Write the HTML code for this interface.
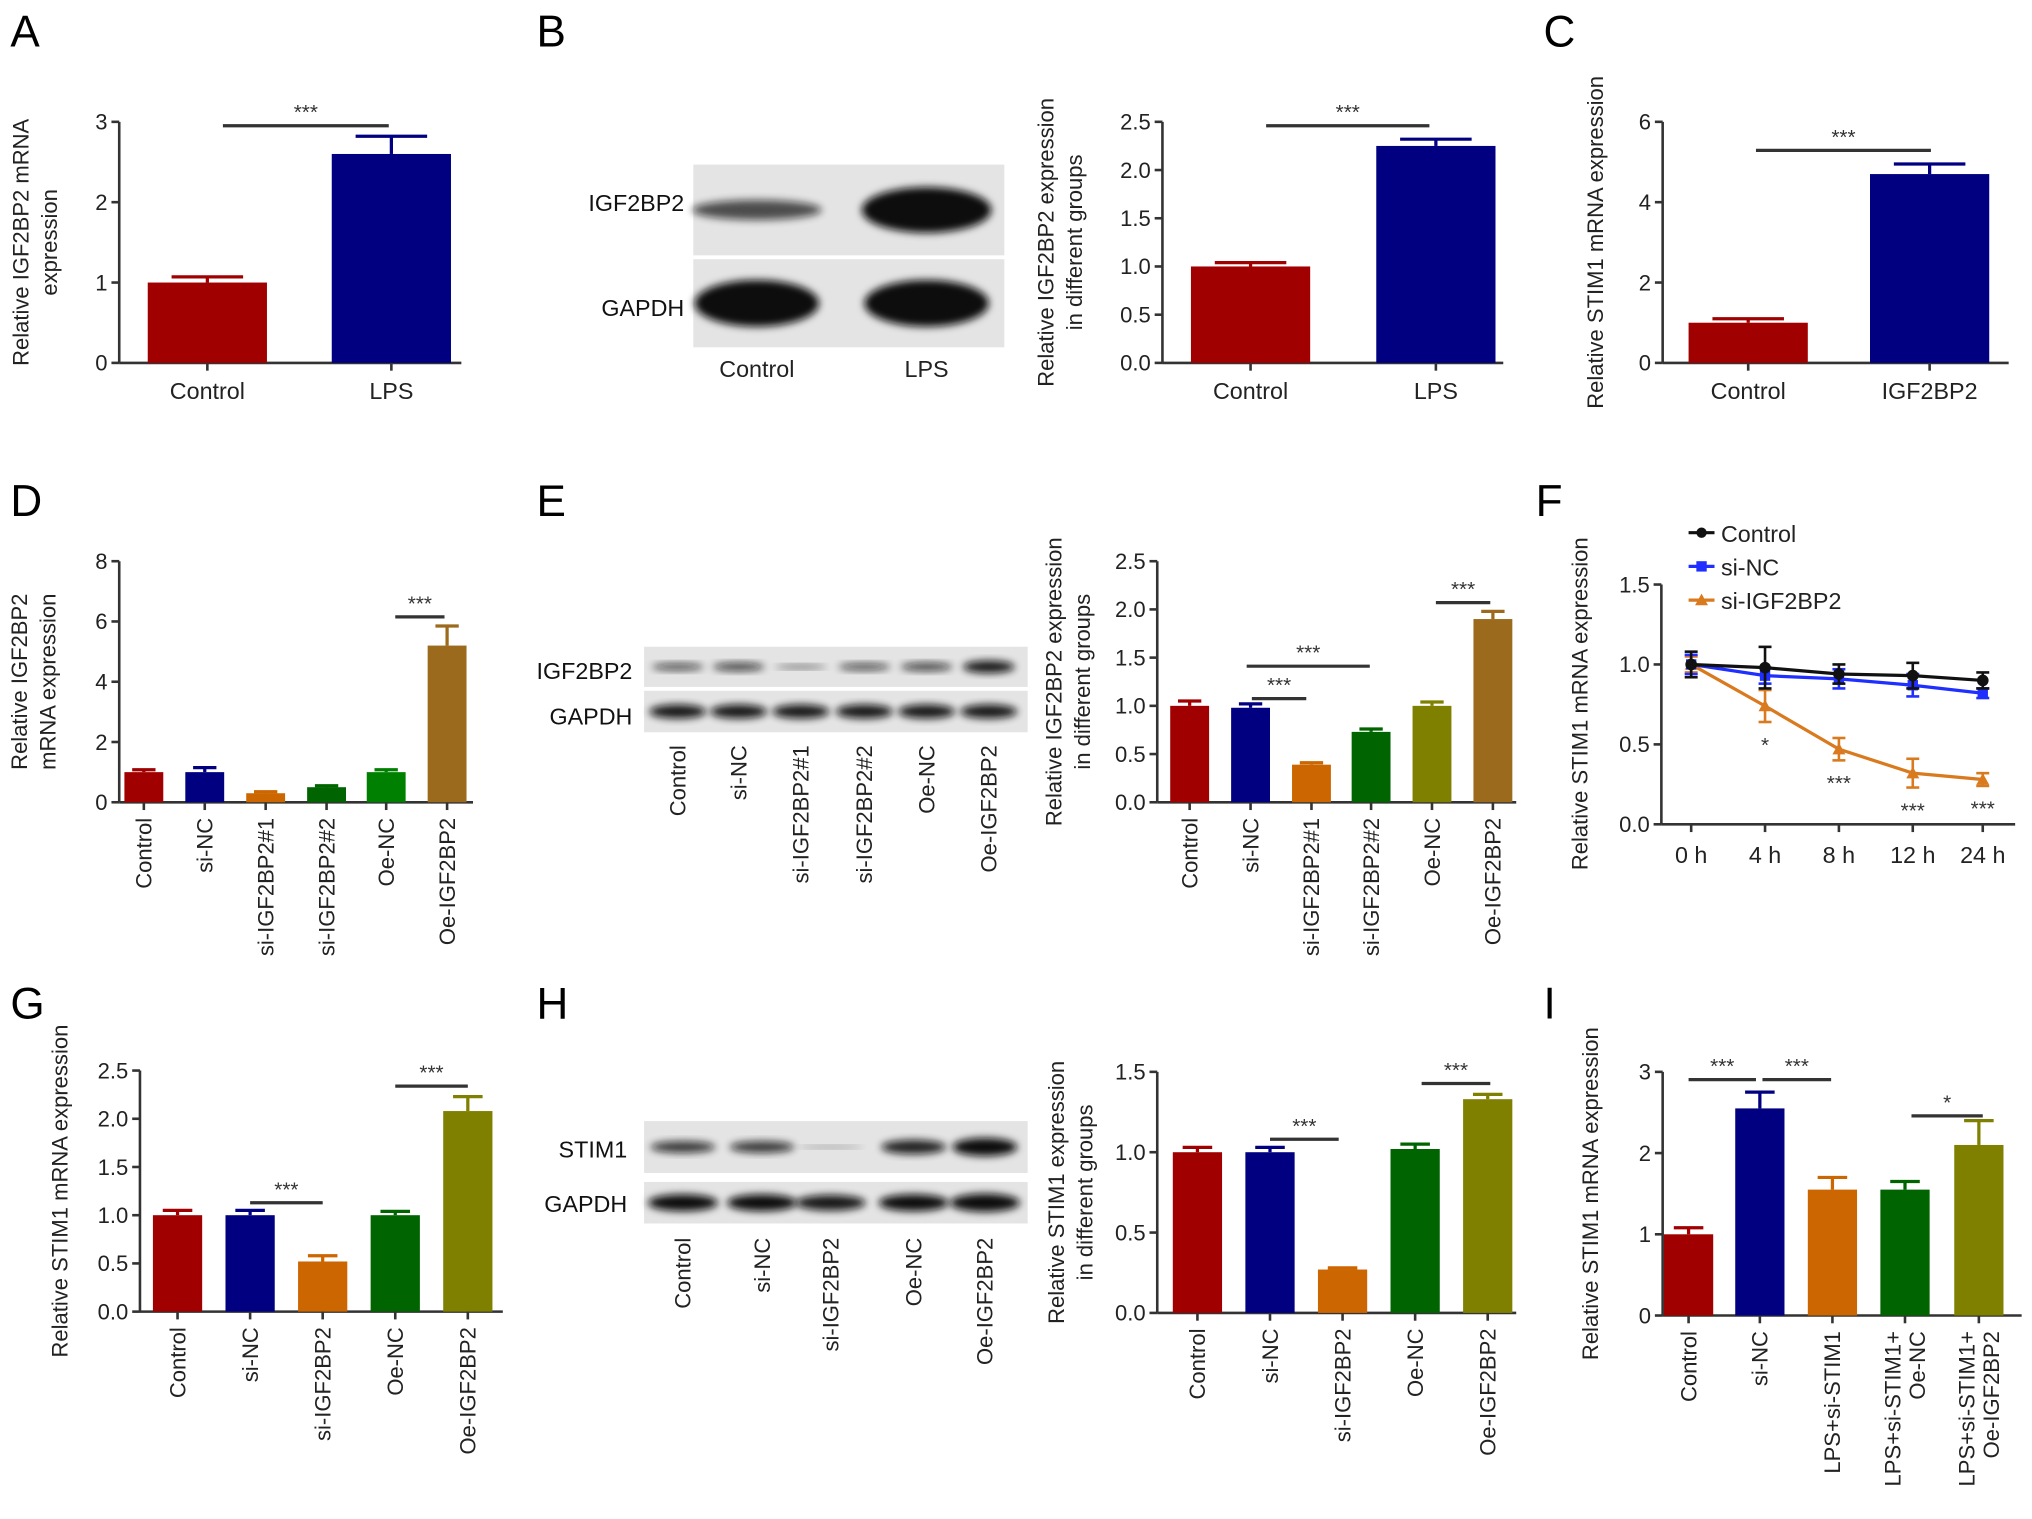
<!DOCTYPE html>
<html><head><meta charset="utf-8"><style>
html,body{margin:0;padding:0;background:#fff}
svg{display:block;font-family:"Liberation Sans",Arial,sans-serif}
</style></head><body>
<svg id="fig" width="2032" height="1519" viewBox="0 0 1568 1172" preserveAspectRatio="none" xmlns="http://www.w3.org/2000/svg">
<defs>
<filter id="blur" x="-20%" y="-50%" width="140%" height="200%"><feGaussianBlur stdDeviation="3"/></filter>
</defs>
<g id="letters" font-size="34" fill="#000">
<text x="8" y="36">A</text><text x="414" y="36">B</text><text x="1191" y="36">C</text>
<text x="8" y="398">D</text><text x="414" y="398">E</text><text x="1185" y="398">F</text>
<text x="8" y="786">G</text><text x="414" y="786">H</text><text x="1191" y="786">I</text>
</g>
</svg>
<script>
// ---- data ----
const aCats=["Control","LPS"], aVals=[1.0,2.6], aErr=[0.07,0.22], aTicks=["0","1","2","3"];
const bCats=["Control","LPS"], bVals=[1.0,2.25], bErr=[0.04,0.07], bTicks=["0.0","0.5","1.0","1.5","2.0","2.5"];
const cCats=["Control","IGF2BP2"], cVals=[1.0,4.7], cErr=[0.1,0.25], cTicks=["0","2","4","6"];
const dCats=["Control","si-NC","si-IGF2BP2#1","si-IGF2BP2#2","Oe-NC","Oe-IGF2BP2"], dVals=[1.0,1.0,0.3,0.5,1.0,5.2], dErr=[0.08,0.15,0.05,0.05,0.08,0.65], dTicks=["0","2","4","6","8"];
const eCats=["Control","si-NC","si-IGF2BP2#1","si-IGF2BP2#2","Oe-NC","Oe-IGF2BP2"], eVals=[1.0,0.98,0.39,0.73,1.0,1.9], eErr=[0.05,0.04,0.02,0.03,0.04,0.08], eTicks=["0.0","0.5","1.0","1.5","2.0","2.5"];
const fTimes=["0 h","4 h","8 h","12 h","24 h"], fTicks=["0.0","0.5","1.0","1.5"];
const fControl=[1.0,0.98,0.94,0.93,0.9], fControlErr=[0.08,0.13,0.06,0.08,0.05];
const fSiNC=[1.0,0.93,0.91,0.87,0.82], fSiNCErr=[0.06,0.05,0.06,0.07,0.03];
const fSi=[1.0,0.74,0.47,0.32,0.28], fSiErr=[0.05,0.1,0.07,0.09,0.04];
const fStars=["","*","***","***","***"];
const gCats=["Control","si-NC","si-IGF2BP2","Oe-NC","Oe-IGF2BP2"], gVals=[1.0,1.0,0.52,1.0,2.08], gErr=[0.05,0.05,0.06,0.04,0.15], gTicks=["0.0","0.5","1.0","1.5","2.0","2.5"];
const hCats=["Control","si-NC","si-IGF2BP2","Oe-NC","Oe-IGF2BP2"], hVals=[1.0,1.0,0.27,1.02,1.33], hErr=[0.03,0.03,0.01,0.03,0.03], hTicks=["0.0","0.5","1.0","1.5"];
const iCats=[["Control"],["si-NC"],["LPS+si-STIM1"],["LPS+si-STIM1+","Oe-NC"],["LPS+si-STIM1+","Oe-IGF2BP2"]], iVals=[1.0,2.55,1.55,1.55,2.1], iErr=[0.08,0.2,0.15,0.1,0.3], iTicks=["0","1","2","3"];

const NS="http://www.w3.org/2000/svg", svg=document.getElementById('fig');
function el(t,a,p){const e=document.createElementNS(NS,t);for(const k in a)e.setAttribute(k,a[k]);(p||svg).appendChild(e);return e;}
const RED="#a00000",NAVY="#000080",OR="#cc6600",GR="#006400",OL="#808000",BR="#9b6a1c",AX="#333";

function axisY(g,x,y0,y1,ticks,max){
  el('line',{x1:x,y1:y0,x2:x,y2:y1,stroke:AX,'stroke-width':2},g);
  ticks.forEach((t,i)=>{const v=max*i/(ticks.length-1);const y=y0-(y0-y1)*v/max;
    el('line',{x1:x-6,y1:y,x2:x,y2:y,stroke:AX,'stroke-width':2},g);
    const tx=el('text',{x:x-9,y:y+6,'text-anchor':'end','font-size':17,fill:'#222'},g);tx.textContent=t;});
}
function ylabel(g,x,cy,lines){
  lines.forEach((l,i)=>{const t=el('text',{x:0,y:0,'text-anchor':'middle','font-size':17,fill:'#222',transform:`translate(${x+i*22},${cy}) rotate(-90)`},g);t.textContent=l;});
}
function sig(g,x1,x2,y,txt){
  el('line',{x1,y1:y,x2,y2:y,stroke:'#333','stroke-width':2.5},g);
  const t=el('text',{x:(x1+x2)/2,y:y-5,'text-anchor':'middle','font-size':16,fill:'#333'},g);t.textContent=txt;
  
}
function bars(o){
  const g=el('g',{});
  const sy=v=>o.y0-(o.y0-o.y1)*v/o.max;
  el('line',{x1:o.ax,y1:o.y0,x2:o.axEnd,y2:o.y0,stroke:AX,'stroke-width':2},g);
  o.vals.forEach((v,i)=>{
    const cx=o.xs[i],c=o.colors[i];
    el('line',{x1:cx,y1:sy(v),x2:cx,y2:sy(v+o.err[i]),stroke:c,'stroke-width':2.5},g);
    el('line',{x1:cx-o.w*0.3,y1:sy(v+o.err[i]),x2:cx+o.w*0.3,y2:sy(v+o.err[i]),stroke:c,'stroke-width':2.5},g);
    const r=el('rect',{x:cx-o.w/2,y:sy(v),width:o.w,height:o.y0-sy(v),fill:c},g);
    
    el('line',{x1:cx,y1:o.y0,x2:cx,y2:o.y0+6,stroke:AX,'stroke-width':2},g);
    const lab=o.cats[i];
    if(o.rot){const lines=Array.isArray(lab)?lab:[lab];
      lines.forEach((l,j)=>{const off=(j-(lines.length-1)/2)*19;
        const t=el('text',{x:0,y:0,'text-anchor':'end','font-size':17,fill:'#222',transform:`translate(${cx+6+off},${o.y0+12}) rotate(-90)`},g);t.textContent=l;
        });}
    else{const t=el('text',{x:cx,y:o.y0+28,'text-anchor':'middle','font-size':18,fill:'#222'},g);t.textContent=lab;
      }
  });
  axisY(g,o.ax,o.y0,o.y1,o.ticks,o.max);
  ylabel(g,o.lx,(o.y0+o.y1)/2+o.ldy,o.label);
  (o.sig||[]).forEach(s=>sig(g,s[0],s[1],s[2],s[3]));
}
function blot(name,x,y,w,h,lanes,ints,bw,bh){
  const g=el('g',{});
  el('rect',{x,y,width:w,height:h,fill:'#e4e4e4'},g);
  lanes.forEach((lx,i)=>{el('ellipse',{cx:lx,cy:y+h/2,rx:bw,ry:bh*ints[i],fill:'#111',opacity:Math.min(1,0.35+ints[i]),filter:'url(#blur)'},g);});
}
function blab(x,y,t,s){const e=el('text',{x,y,'text-anchor':'end','font-size':s||18,fill:'#111'});e.textContent=t;}
function lanelab(xs,y,labs,rot){labs.forEach((l,i)=>{const t=rot?el('text',{x:0,y:0,'text-anchor':'end','font-size':17,fill:'#222',transform:`translate(${xs[i]+6},${y}) rotate(-90)`}):el('text',{x:xs[i],y,'text-anchor':'middle','font-size':18,fill:'#222'});t.textContent=l;});}

// A
bars({name:'panel-a-chart',cats:aCats,vals:aVals,err:aErr,ticks:aTicks,max:3,ax:92,axEnd:356,y0:280,y1:94,xs:[160,302],w:92,colors:[RED,NAVY],label:["Relative IGF2BP2 mRNA","expression"],lx:22,ldy:0,sig:[[172,300,97,"***"]]});
// B blot
blot('panel-b-blot-igf2bp2',535,127,240,70,[584,715],[0.35,0.8],50,22);
blot('panel-b-blot-gapdh',535,200,240,68,[584,715],[0.75,0.75],48,24);
blab(528,163,"IGF2BP2");blab(528,244,"GAPDH");lanelab([584,715],291,["Control","LPS"]);
bars({name:'panel-b-chart',cats:bCats,vals:bVals,err:bErr,ticks:bTicks,max:2.5,ax:897,axEnd:1160,y0:280,y1:94,xs:[965,1108],w:92,colors:[RED,NAVY],label:["Relative IGF2BP2 expression","in different groups"],lx:813,ldy:0,sig:[[977,1103,97,"***"]]});
// C
bars({name:'panel-c-chart',cats:cCats,vals:cVals,err:cErr,ticks:cTicks,max:6,ax:1283,axEnd:1550,y0:280,y1:94,xs:[1349,1489],w:92,colors:[RED,NAVY],label:["Relative STIM1 mRNA expression"],lx:1237,ldy:0,sig:[[1355,1490,116,"***"]]});
// D
bars({name:'panel-d-chart',cats:dCats,vals:dVals,err:dErr,ticks:dTicks,max:8,ax:92,axEnd:365,y0:619,y1:433,xs:[111,158,205,252,298,345],w:30,colors:[RED,NAVY,OR,GR,"#008000",BR],rot:true,label:["Relative IGF2BP2","mRNA expression"],lx:21,ldy:0,sig:[[305,343,476,"***"]]});
// E blot
const eLanes=[523,570,618,667,715,763];
blot('panel-e-blot-igf2bp2',497,499,296,31,eLanes,[0.35,0.4,0.2,0.35,0.4,0.6],20,8);
blot('panel-e-blot-gapdh',497,533,296,32,eLanes,[0.6,0.6,0.6,0.6,0.6,0.6],22,9);
blab(488,524,"IGF2BP2");blab(488,559,"GAPDH");lanelab(eLanes,575,eCats,true);
bars({name:'panel-e-chart',cats:eCats,vals:eVals,err:eErr,ticks:eTicks,max:2.5,ax:893,axEnd:1170,y0:619,y1:433,xs:[918,965,1012,1058,1105,1152],w:30,colors:[RED,NAVY,OR,GR,OL,BR],rot:true,label:["Relative IGF2BP2 expression","in different groups"],lx:819,ldy:0,sig:[[966,1008,539,"***"],[962,1057,514,"***"],[1108,1150,465,"***"]]});
// F line chart
(function(){
  const g=el('g',{});
  const y0=636,y1=451,max=1.5,xs=[1305,1362,1419,1476,1530];
  const sy=v=>y0-(y0-y1)*v/max;
  el('line',{x1:1282,y1:y0,x2:1555,y2:y0,stroke:AX,'stroke-width':2},g);
  xs.forEach((x,i)=>{el('line',{x1:x,y1:y0,x2:x,y2:y0+6,stroke:AX,'stroke-width':2},g);
    const t=el('text',{x,y:y0+30,'text-anchor':'middle','font-size':18,fill:'#222'},g);t.textContent=fTimes[i];
    });
  axisY(g,1282,y0,y1,fTicks,max);
  ylabel(g,1225,543,["Relative STIM1 mRNA expression"]);
  const ser=[[fSi,fSiErr,"#d97a1f","tri"],[fSiNC,fSiNCErr,"#1f2fff","sq"],[fControl,fControlErr,"#111","dot"]];
  ser.forEach(([v,e,c,m])=>{
    const s=el('g',{},g);
    el('polyline',{points:v.map((d,i)=>xs[i]+','+sy(d)).join(' '),fill:'none',stroke:c,'stroke-width':2.5},s);
    v.forEach((d,i)=>{const x=xs[i];
      el('line',{x1:x,y1:sy(d-e[i]),x2:x,y2:sy(d+e[i]),stroke:c,'stroke-width':2},s);
      [d-e[i],d+e[i]].forEach(q=>el('line',{x1:x-5,y1:sy(q),x2:x+5,y2:sy(q),stroke:c,'stroke-width':2},s));
      if(m=='tri')el('polygon',{points:`${x},${sy(d)-5} ${x-5},${sy(d)+4} ${x+5},${sy(d)+4}`,fill:c},s);
      else if(m=='sq')el('rect',{x:x-4,y:sy(d)-4,width:8,height:8,fill:c},s);
      else el('circle',{cx:x,cy:sy(d),r:4.5,fill:c},s);});
  });
  fStars.forEach((s,i)=>{if(!s)return;const t=el('text',{x:xs[i],y:sy(fSi[i]-fSiErr[i])+23,'text-anchor':'middle','font-size':16,fill:'#333'},g);t.textContent=s;
    });
  const leg=[["Control","#111","dot"],["si-NC","#1f2fff","sq"],["si-IGF2BP2","#d97a1f","tri"]];
  leg.forEach(([l,c,m],i)=>{const y=411+i*26;const lg=el('g',{},g);
    el('line',{x1:1303,y1:y,x2:1323,y2:y,stroke:c,'stroke-width':2.5},lg);
    if(m=='dot')el('circle',{cx:1313,cy:y,r:4,fill:c},lg);else if(m=='sq')el('rect',{x:1309,y:y-4,width:8,height:8,fill:c},lg);else el('polygon',{points:`1313,${y-5} 1308,${y+4} 1318,${y+4}`,fill:c},lg);
    const t=el('text',{x:1328,y:y+7,'font-size':18,fill:'#222'},lg);t.textContent=l;});
})();
// G
bars({name:'panel-g-chart',cats:gCats,vals:gVals,err:gErr,ticks:gTicks,max:2.5,ax:108,axEnd:388,y0:1012,y1:826,xs:[137,193,249,305,361],w:38,colors:[RED,NAVY,OR,GR,OL],rot:true,label:["Relative STIM1 mRNA expression"],lx:52,ldy:0,sig:[[193,249,928,"***"],[305,361,838,"***"]]});
// H blot
const hLanes=[527,588,641,705,760];
blot('panel-h-blot-stim1',497,865,296,40,hLanes,[0.45,0.45,0.1,0.55,0.7],25,10);
blot('panel-h-blot-gapdh',497,912,296,32,hLanes,[0.65,0.65,0.6,0.65,0.7],27,10);
blab(484,893,"STIM1");blab(484,935,"GAPDH");lanelab(hLanes,955,hCats,true);
bars({name:'panel-h-chart',cats:hCats,vals:hVals,err:hErr,ticks:hTicks,max:1.5,ax:893,axEnd:1170,y0:1013,y1:827,xs:[924,980,1036,1092,1148],w:38,colors:[RED,NAVY,OR,GR,OL],rot:true,label:["Relative STIM1 expression","in different groups"],lx:821,ldy:0,sig:[[980,1033,879,"***"],[1097,1150,836,"***"]]});
// I
bars({name:'panel-i-chart',cats:iCats,vals:iVals,err:iErr,ticks:iTicks,max:3,ax:1283,axEnd:1560,y0:1015,y1:827,xs:[1303,1358,1414,1470,1527],w:38,colors:[RED,NAVY,OR,GR,OL],rot:true,label:["Relative STIM1 mRNA expression"],lx:1233,ldy:0,sig:[[1303,1355,833,"***"],[1360,1413,833,"***"],[1475,1530,861,"*"]]});
</script>
</body></html>
